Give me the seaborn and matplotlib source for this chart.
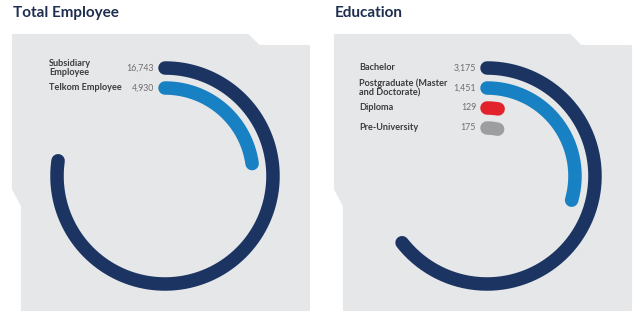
import numpy as np
import pandas as pd
import matplotlib
matplotlib.use("Agg")
import matplotlib.pyplot as plt
from matplotlib.patches import Polygon
import seaborn as sns

# ---- data ----
emp_labels = ["Subsidiary\nEmployee", "Telkom Employee"]
emp_values = [16743, 4930]
emp_colors = ["#1b3461", "#1781c3"]

edu_labels = ["Bachelor", "Postgraduate (Master\nand Doctorate)", "Diploma", "Pre-University"]
edu_values = [3175, 1451, 129, 175]
edu_colors = ["#1b3461", "#1781c3", "#e3232b", "#9d9ea0"]

titles = ["Total Employee", "Education"]

sns.set_theme(style="white")
plt.rcParams["font.family"] = ["Lato", "DejaVu Sans"]

W, H = 644, 326
fig = plt.figure(figsize=(W / 100, H / 100), dpi=100)
fig.patch.set_facecolor("white")

# background axes in pixel coordinates
bg = fig.add_axes([0, 0, 1, 1])
bg.set_xlim(0, W)
bg.set_ylim(H, 0)
bg.axis("off")

PANEL_BG = "#e6e7e9"
TITLE_C = "#1e2e4f"
LABEL_C = "#3c3c3e"
VALUE_C = "#6e6e70"

R_AX = 130          # polar axes half-size in px
R0, DR = 108, 20    # outer ring radius and ring spacing in px
LW = 13.5 * 72 / 100


def panel(x0, label_x, spec):
    title, labels, values, colors = spec
    # notched card outline
    pts = [(x0 + 13, 35), (x0 + 248, 35), (x0 + 259, 46), (x0 + 309, 46),
           (x0 + 309, 310), (x0 + 22, 310), (x0 + 22, 206), (x0 + 13, 189)]
    bg.add_patch(Polygon(pts, closed=True, facecolor=PANEL_BG, edgecolor=PANEL_BG,
                         linewidth=1.5, joinstyle="round"))
    bg.text(x0 + 13, 13, title, fontsize=11, fontweight="bold", color=TITLE_C,
            ha="left", va="center")

    cx, cy = x0 + 165, 176
    pax = fig.add_axes([(cx - R_AX) / W, (H - cy - R_AX) / H, 2 * R_AX / W, 2 * R_AX / H],
                       projection="polar")
    pax.set_theta_zero_location("N")
    pax.set_theta_direction(-1)
    pax.set_ylim(0, R_AX)
    pax.set_xlim(0, 2 * np.pi)
    pax.patch.set_alpha(0)

    total = sum(values)
    rows = []
    for i, (lab, v) in enumerate(zip(labels, values)):
        sweep = v / total * 2 * np.pi
        th = np.linspace(0, sweep, 240)
        r = R0 - DR * i
        rows.append(pd.DataFrame({"theta": th, "r": r, "cat": lab}))
        # label and value text
        y = cy - r
        bg.text(x0 + label_x, y, lab, fontsize=6.6, fontweight="bold", color=LABEL_C,
                ha="left", va="center", linespacing=1.1)
        bg.text(x0 + 154, y, f"{v:,}", fontsize=6.3, color=VALUE_C,
                ha="right", va="center")
    df = pd.concat(rows, ignore_index=True)
    sns.lineplot(data=df, x="theta", y="r", hue="cat", palette=dict(zip(labels, colors)),
                 estimator=None, sort=False, linewidth=LW, solid_capstyle="round",
                 legend=False, ax=pax)
    pax.axis("off")


panel(0, 49, (titles[0], emp_labels, emp_values, emp_colors))
panel(322, 37, (titles[1], edu_labels, edu_values, edu_colors))

fig.savefig("out.png", dpi=100, facecolor="white")
